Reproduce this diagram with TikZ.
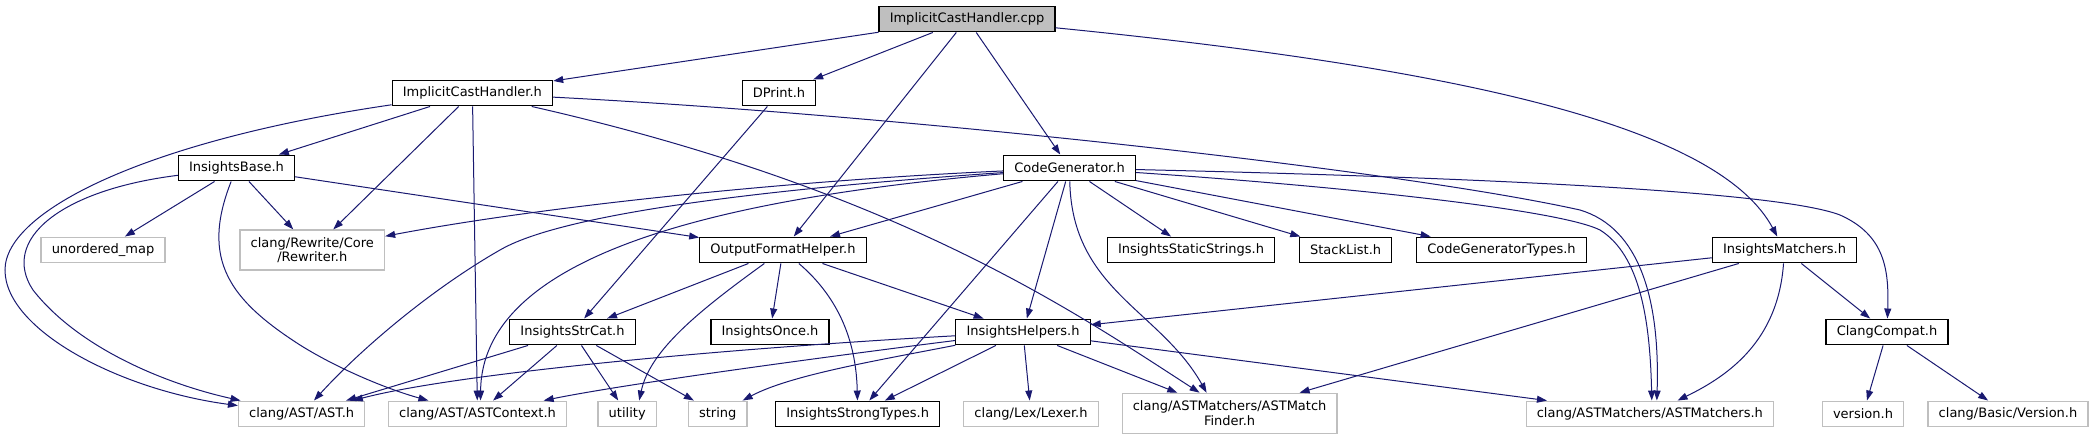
\documentclass[tikz,border=0pt]{standalone}
\usepackage{fontspec}
\setmainfont{DejaVu Sans}
\usetikzlibrary{arrows.meta,calc}
\definecolor{edgeblue}{HTML}{191970}
\definecolor{extgray}{HTML}{BFBFBF}
\newcommand{\graphfont}{\fontsize{9.75}{10.75}\selectfont}

\begin{document}
\begin{tikzpicture}[x=0.75pt, y=-0.75pt,
    file/.style={draw=black, line width=0.9pt, fill=white, inner xsep=8pt,
      inner ysep=0pt, minimum height=19.3pt, font=\graphfont},
    sysfile/.style={file, draw=extgray},
    srcfile/.style={file, fill=extgray},
    twoline/.style={align=center, minimum height=30pt},
    dep/.style={edgeblue, line width=0.75pt, -{Triangle[length=7.5pt,width=5.2pt]}}]
      \useasboundingbox (0,0) rectangle (2094,440);

      % Files
      \node[srcfile] (cpp) at (967,19) {ImplicitCastHandler.cpp};
      \node[file] (ich) at (472.4,93) {ImplicitCastHandler.h};
      \node[file] (dprint) at (779,93) {DPrint.h};
      \node[file] (base) at (236.5,168) {InsightsBase.h};
      \node[file] (codegen) at (1069.5,168) {CodeGenerator.h};
      \node[sysfile] (umap) at (103,250) {unordered\_map};
      \node[sysfile, twoline] (rewriter) at (312.3,250) {clang/Rewrite/Core\\/Rewriter.h};
      \node[file] (ofh) at (783,250) {OutputFormatHelper.h};
      \node[file] (statstr) at (1191,250) {InsightsStaticStrings.h};
      \node[file] (stack) at (1345.6,250) {StackList.h};
      \node[file] (cgtypes) at (1501.5,250) {CodeGeneratorTypes.h};
      \node[file] (matchers) at (1784.5,250) {InsightsMatchers.h};
      \node[file] (strcat) at (572.5,332) {InsightsStrCat.h};
      \node[file] (once) at (770,332) {InsightsOnce.h};
      \node[file] (helpers) at (1023,332) {InsightsHelpers.h};
      \node[file] (compat) at (1887,332) {ClangCompat.h};
      \node[sysfile] (ast) at (301.7,414) {clang/AST/AST.h};
      \node[sysfile] (astctx) at (477.5,414) {clang/AST/ASTContext.h};
      \node[sysfile] (utility) at (627.2,414) {utility};
      \node[sysfile] (string) at (717.7,414) {string};
      \node[file] (strong) at (857.7,414) {InsightsStrongTypes.h};
      \node[sysfile] (lexer) at (1031,414) {clang/Lex/Lexer.h};
      \node[sysfile, twoline] (finder) at (1229.6,413.3) {clang/ASTMatchers/ASTMatch\\Finder.h};
      \node[sysfile] (astm) at (1649.8,414) {clang/ASTMatchers/ASTMatchers.h};
      \node[sysfile] (version) at (1863,414) {version.h};
      \node[sysfile] (bversion) at (2008,414) {clang/Basic/Version.h};

      % ImplicitCastHandler.cpp
      \draw[dep] (cpp) -- (ich);
      \draw[dep] (cpp) -- (dprint);
      \draw[dep] (cpp) -- (ofh);
      \draw[dep] (cpp) -- (codegen);
      \draw[dep] (cpp) .. controls (1480,70) and (1720,130) .. (matchers);

      % ImplicitCastHandler.h
      \draw[dep] (ich) .. controls (150,140) and (5,210) .. (5,270)
        .. controls (5,330) and (120,390) .. (ast);
      \draw[dep] (ich) -- (base);
      \draw[dep] (ich) -- (rewriter);
      \draw[dep] (ich) -- (astctx);
      \draw[dep] (ich) .. controls (900,190) and (1076,313) .. ($(finder.north)+(-30,0)$);
      \draw[dep] (ich) .. controls (900,115) and (1400,170) .. (1580,210)
        .. controls (1640,228) and (1660,300) .. ($(astm.north)+(7,0)$);

      % DPrint.h
      \draw[dep] (dprint) -- (strcat);

      % InsightsBase.h
      \draw[dep] (base) .. controls (60,190) and (0,240) .. (33,290)
        .. controls (80,350) and (170,385) .. (ast);
      \draw[dep] (base) -- (umap);
      \draw[dep] (base) -- (rewriter);
      \draw[dep] (base) .. controls (200,260) and (230,300) .. (300,345)
        .. controls (340,370) and (390,390) .. (astctx);
      \draw[dep] (base) -- (ofh);

      % CodeGenerator.h
      \draw[dep] (codegen) .. controls (800,180) and (550,205) .. (rewriter);
      \draw[dep] (codegen) .. controls (750,190) and (560,215) .. (500,250)
        .. controls (430,290) and (360,350) .. (ast);
      \draw[dep] (codegen) .. controls (700,200) and (482,260) .. ($(astctx.north)+(3,0)$);
      \draw[dep] (codegen) -- (ofh);
      \draw[dep] (codegen) -- (strong);
      \draw[dep] (codegen) -- (helpers);
      \draw[dep] (codegen) .. controls (1072,290) and (1160,310) .. ($(finder.north)+(-23,0)$);
      \draw[dep] (codegen) -- (statstr);
      \draw[dep] (codegen) -- (stack);
      \draw[dep] (codegen) -- (cgtypes);
      \draw[dep] (codegen) .. controls (1350,187) and (1560,210) .. (1600,230)
        .. controls (1640,255) and (1650,320) .. ($(astm.north)+(2,0)$);
      \draw[dep] (codegen) .. controls (1500,178) and (1780,192) .. (1840,215)
        .. controls (1885,235) and (1889,270) .. (compat);

      % OutputFormatHelper.h
      \draw[dep] (ofh) -- (strcat);
      \draw[dep] (ofh) .. controls (700,310) and (650,350) .. ($(utility.north)+(12,0)$);
      \draw[dep] (ofh) -- (once);
      \draw[dep] (ofh) .. controls (830,290) and (856,330) .. (strong);
      \draw[dep] (ofh) -- (helpers);

      % InsightsStrCat.h
      \draw[dep] (strcat) -- (ast);
      \draw[dep] (strcat) -- (astctx);
      \draw[dep] (strcat) -- (utility);
      \draw[dep] (strcat) -- (string);

      % InsightsHelpers.h
      \draw[dep] (helpers) .. controls (700,350) and (450,375) .. (ast);
      \draw[dep] (helpers) .. controls (800,360) and (620,385) .. (astctx);
      \draw[dep] (helpers) .. controls (880,360) and (790,375) .. (string);
      \draw[dep] (helpers) -- (strong);
      \draw[dep] (helpers) -- (lexer);
      \draw[dep] (helpers) -- (finder);
      \draw[dep] (helpers) -- (astm);

      % InsightsMatchers.h
      \draw[dep] (matchers) -- (helpers);
      \draw[dep] (matchers) -- (finder);
      \draw[dep] (matchers) .. controls (1778,340) and (1730,375) .. (astm);
      \draw[dep] (matchers) -- (compat);

      % ClangCompat.h
      \draw[dep] (compat) -- (version);
      \draw[dep] (compat) -- (bversion);
    \end{tikzpicture}
\end{document}
